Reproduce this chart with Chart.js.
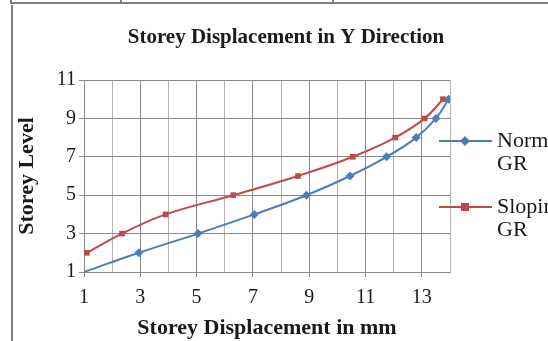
<!DOCTYPE html>
<html>
<head>
<meta charset="utf-8">
<script src="https://cdn.jsdelivr.net/npm/chart.js@4/dist/chart.umd.min.js"></script>
<style>
  html, body { margin: 0; padding: 0; background: #ffffff; }
  #wrap { width: 548px; height: 341px; position: relative; }
</style>
</head>
<body>
<div id="wrap"><canvas id="c" width="548" height="341"></canvas></div>
<script>
// Storey displacement (mm) against storey level, Y direction
const normalDisp   = [1.0, 2.95, 5.05, 7.05, 8.9, 10.45, 11.75, 12.8, 13.5, 13.95];
const normalLevel  = [1, 2, 3, 4, 5, 6, 7, 8, 9, 10];
const slopingDisp  = [1.1, 2.35, 3.9, 6.3, 8.6, 10.55, 12.05, 13.1, 13.75];
const slopingLevel = [2, 3, 4, 5, 6, 7, 8, 9, 10];
const seriesNames  = [["Normal", "GR"], ["Sloping", "GR"]];
const chartTitle   = 'Storey Displacement in Y Direction';
const xTickValues  = [1, 3, 5, 7, 9, 11, 13];
const yTickValues  = [1, 3, 5, 7, 9, 11];

const BLUE = '#4a7ebb';
const RED  = '#be4b48';
const SERIF = '"Liberation Serif", "Times New Roman", serif';

const toPoints = (xs, ys) => xs.map((x, i) => ({ x, y: ys[i] }));

// Frame lines around the chart object, and the chart title centred on the frame
const framePlugin = {
  id: 'frame',
  beforeDraw(chart) {
    const ctx = chart.ctx;
    ctx.save();
    ctx.fillStyle = '#ffffff';
    ctx.fillRect(0, 0, chart.width, chart.height);
    ctx.strokeStyle = '#7f7f7f';
    ctx.lineWidth = 2;
    ctx.beginPath();
    ctx.moveTo(10, 3); ctx.lineTo(chart.width, 3);
    [11, 121, 333].forEach(x => { ctx.moveTo(x, 0); ctx.lineTo(x, 3); });
    ctx.moveTo(12, 5); ctx.lineTo(12, chart.height);
    ctx.stroke();
    ctx.restore();
  },
  afterDraw(chart) {
    const ctx = chart.ctx;
    ctx.save();
    ctx.fillStyle = '#1a1a1a';
    ctx.font = 'bold 21px ' + SERIF;
    ctx.textAlign = 'center';
    ctx.textBaseline = 'middle';
    ctx.fillText(chartTitle, 286, 38);
    ctx.restore();
  }
};

// Legend at the right: line sample with marker, wrapped series name
const legendPlugin = {
  id: 'sideLegend',
  afterDraw(chart) {
    const ctx = chart.ctx;
    const rows = [141, 207];
    ctx.save();
    chart.data.datasets.forEach((ds, i) => {
      const y = rows[i];
      ctx.strokeStyle = ds.borderColor;
      ctx.lineWidth = 2;
      ctx.beginPath();
      ctx.moveTo(439, y); ctx.lineTo(492, y);
      ctx.stroke();
      ctx.fillStyle = ds.backgroundColor;
      ctx.beginPath();
      if (ds.pointStyle === 'rectRot') {
        ctx.moveTo(465, y - 5); ctx.lineTo(470, y); ctx.lineTo(465, y + 5); ctx.lineTo(460, y);
      } else {
        ctx.rect(461, y - 4, 8, 8);
      }
      ctx.closePath();
      ctx.fill();
      ctx.fillStyle = '#1a1a1a';
      ctx.font = '22px ' + SERIF;
      ctx.textBaseline = 'middle';
      ctx.textAlign = 'left';
      seriesNames[i].forEach((t, k) => ctx.fillText(t, 497, y + k * 23));
    });
    ctx.restore();
  }
};

new Chart(document.getElementById('c'), {
  type: 'scatter',
  data: {
    datasets: [
      {
        label: seriesNames[0].join(' '),
        data: toPoints(normalDisp, normalLevel),
        showLine: true,
        tension: 0.4,
        borderColor: BLUE,
        backgroundColor: BLUE,
        borderWidth: 2,
        pointStyle: 'rectRot',
        pointRadius: normalDisp.map((_, i) => i === 0 ? 0 : 4.5),
        pointBorderWidth: 0
      },
      {
        label: seriesNames[1].join(' '),
        data: toPoints(slopingDisp, slopingLevel),
        showLine: true,
        tension: 0.4,
        borderColor: RED,
        backgroundColor: RED,
        borderWidth: 2,
        pointStyle: 'rect',
        pointRadius: 4,
        pointBorderWidth: 0
      }
    ]
  },
  options: {
    responsive: false,
    animation: false,
    layout: { padding: { left: 12, right: 98, top: 80, bottom: 0 } },
    plugins: {
      legend: { display: false },
      tooltip: { enabled: false },
      title: { display: false }
    },
    scales: {
      x: {
        type: 'linear',
        min: 1, max: 14,
        afterFit(s) { s.height = 69; },
        afterBuildTicks(s) {
          s.ticks = [];
          for (let v = 1; v <= 14; v++) s.ticks.push({ value: v });
        },
        ticks: {
          callback: v => xTickValues.includes(v) ? String(v) : '',
          color: '#1a1a1a',
          font: { family: SERIF, size: 20 },
          padding: 9,
          maxRotation: 0,
          autoSkip: false
        },
        grid: {
          color: c => (c.tick && c.tick.value % 2 === 1) ? '#8a8a8a' : '#b4b4b4',
          tickColor: c => (c.tick && xTickValues.includes(c.tick.value)) ? '#8a8a8a' : 'rgba(0,0,0,0)',
          tickLength: 5,
          lineWidth: 1
        },
        border: { color: '#8a8a8a', width: 1 },
        title: {
          display: true,
          text: 'Storey Displacement in mm',
          color: '#1a1a1a',
          font: { family: SERIF, size: 22, weight: 'bold' },
          padding: { top: 0, bottom: -1 }
        }
      },
      y: {
        type: 'linear',
        min: 1, max: 11,
        afterFit(s) { s.width = 72; },
        afterBuildTicks(s) { s.ticks = yTickValues.map(v => ({ value: v })); },
        ticks: {
          color: '#1a1a1a',
          font: { family: SERIF, size: 20 },
          padding: 3
        },
        grid: {
          color: '#8a8a8a',
          tickColor: '#8a8a8a',
          tickLength: 5,
          lineWidth: 1
        },
        border: { color: '#8a8a8a', width: 1 },
        title: {
          display: true,
          text: 'Storey Level',
          color: '#1a1a1a',
          font: { family: SERIF, size: 22, weight: 'bold' },
          padding: { top: 2, bottom: 0 }
        }
      }
    }
  },
  plugins: [framePlugin, legendPlugin]
});
</script>
</body>
</html>
